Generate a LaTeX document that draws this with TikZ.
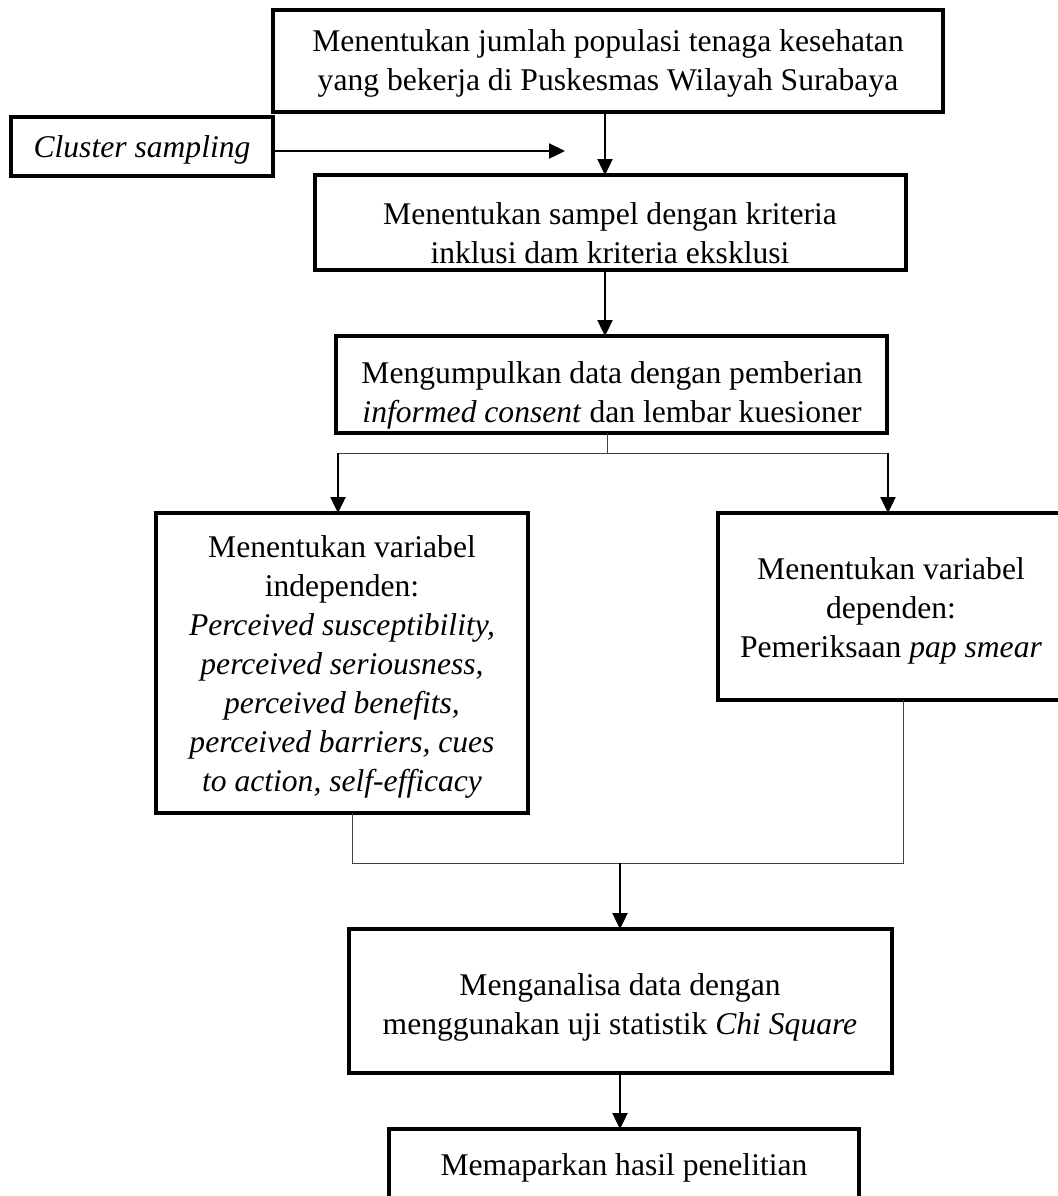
\documentclass[tikz,border=0pt]{standalone}
\usepackage{fontspec}
\setmainfont{Liberation Serif}
\usetikzlibrary{arrows.meta}
\begin{document}
\begin{tikzpicture}[x=0.5pt,y=-0.5pt,
  box/.style={draw, line width=1.6pt, inner sep=0pt, outer sep=0pt, anchor=north west},
  txt/.style={align=center, inner sep=0pt, font=\fontsize{15.8pt}{19.5pt}\selectfont},
  arr/.style={line width=1.2pt, -{Triangle[length=8pt,width=7.5pt]}},
  thinline/.style={line width=0.5pt, draw=black!75},
]
\useasboundingbox (0,0) rectangle (1057,1196);

% boxes
\node[box, minimum width=335pt, minimum height=51pt]   (b1) at (273,10)  {};
\node[box, minimum width=131pt, minimum height=29.5pt] (cs) at (11,117)  {};
\node[box, minimum width=295.5pt, minimum height=47.5pt] (b2) at (315,175) {};
\node[box, minimum width=275.5pt, minimum height=48.5pt] (b3) at (336,336) {};
\node[box, minimum width=186pt, minimum height=150pt]  (b4) at (156,513) {};
\node[box, minimum width=173pt, minimum height=93.5pt] (b5) at (718,513) {};
\node[box, minimum width=271.5pt, minimum height=72pt] (b6) at (349,929) {};
\node[box, minimum width=235pt, minimum height=40pt]   (b7) at (389,1129) {};

% texts
\node[txt] (t1) at (608,63) {Menentukan jumlah populasi tenaga kesehatan\\yang bekerja di Puskesmas Wilayah Surabaya};
\node[txt] (tcs) at (142,150) {\textit{Cluster sampling}};
\node[txt] (t2) at (610,233) {Menentukan sampel dengan kriteria\\inklusi dam kriteria eksklusi};
\node[txt] (t3) at (612,395) {Mengumpulkan data dengan pemberian\\\textit{informed consent} dan lembar kuesioner};
\node[txt] (t4) at (342,667) {Menentukan variabel\\independen:\\\textit{Perceived susceptibility,}\\\textit{perceived seriousness,}\\\textit{perceived benefits,}\\\textit{perceived barriers, cues}\\\textit{to action, self-efficacy}};
\node[txt] (t5) at (891,611) {Menentukan variabel\\dependen:\\Pemeriksaan \textit{pap smear}};
\node[txt] (t6) at (620,1007) {Menganalisa data dengan\\menggunakan uji statistik \textit{Chi Square}};
\node[txt] (t7) at (624,1168) {Memaparkan hasil penelitian};

% connector columns and junctions
\coordinate (c1) at (605,0);
\coordinate (csend) at (565,151);
\coordinate (j1) at (607,453);
\coordinate (jl) at (338,453);
\coordinate (jr) at (888,453);
\coordinate (kl) at (352,863);
\coordinate (kr) at (903,863);
\coordinate (km) at (620,863);

\draw[arr] ([yshift=-2.25pt]cs.east) -- (csend);
\draw[arr] (c1 |- b1.south) -- (c1 |- b2.north);
\draw[arr] (c1 |- b2.south) -- (c1 |- b3.north);
\draw[thinline] (j1 |- b3.south) -- (j1);
\draw[thinline] (jl) -- (jr);
\draw[arr] (jl) -- (jl |- b4.north);
\draw[arr] (jr) -- (jr |- b5.north);
\draw[thinline] (kl |- b4.south) -- (kl) -- (kr) -- (kr |- b5.south);
\draw[arr] (km) -- (km |- b6.north);
\draw[arr] (km |- b6.south) -- (km |- b7.north);
\end{tikzpicture}
\end{document}
